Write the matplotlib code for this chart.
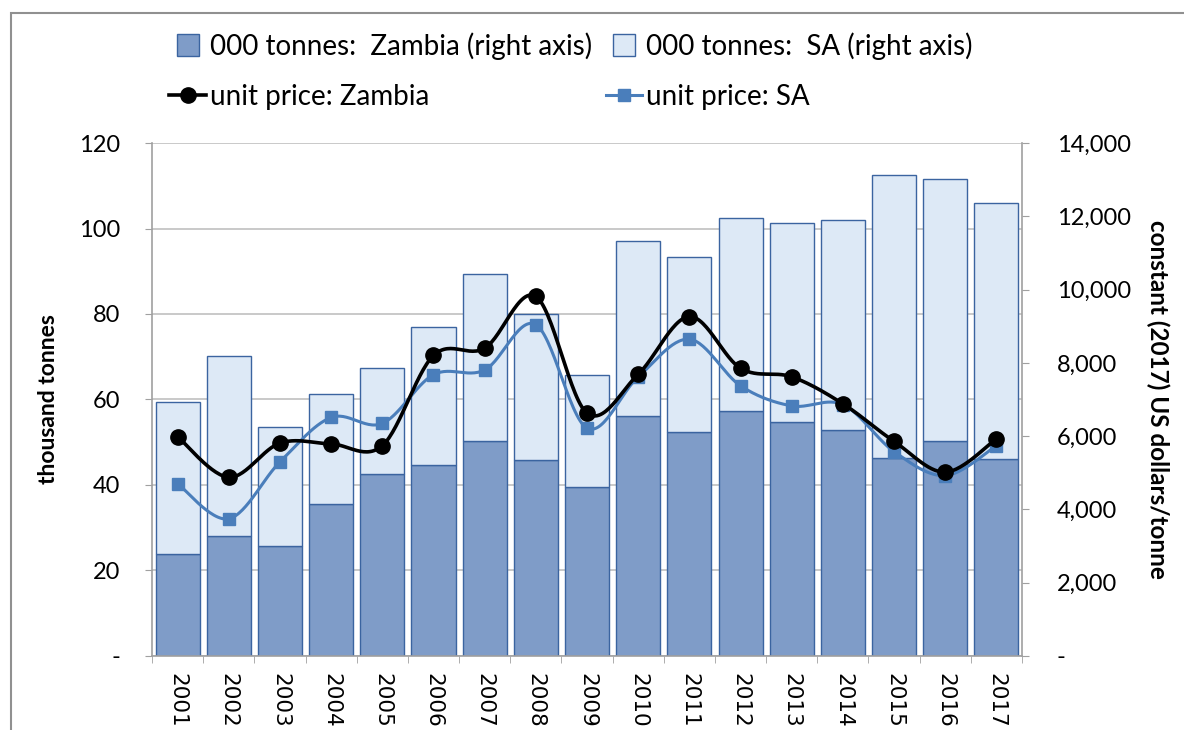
import numpy as np
import matplotlib
matplotlib.use("Agg")
import matplotlib.pyplot as plt
from matplotlib.patches import Rectangle
from matplotlib.ticker import FuncFormatter, FixedLocator, MultipleLocator
from matplotlib.lines import Line2D

plt.rcParams['font.family'] = ['Lato', 'DejaVu Sans']

# data
years = [str(y) for y in range(2001, 2018)]
zambia_kt = [23.9, 28.1, 25.7, 35.5, 42.5, 44.7, 50.2, 45.8, 39.5,
             56.1, 52.3, 57.3, 54.8, 52.9, 46.2, 50.4, 46.0]
total_kt = [59.3, 70.1, 53.5, 61.2, 67.4, 77.0, 89.4, 80.1, 65.7,
            97.0, 93.4, 102.4, 101.2, 102.1, 112.5, 111.5, 106.0]
sa_kt = [round(t - z, 1) for t, z in zip(total_kt, zambia_kt)]
price_zambia = [5985, 4877, 5810, 5787, 5740, 8202, 8400, 9812, 6627,
                7688, 9263, 7852, 7618, 6883, 5857, 5017, 5927]
price_sa = [4702, 3745, 5297, 6510, 6347, 7677, 7805, 9042, 6218,
            7618, 8645, 7373, 6825, 6860, 5577, 4923, 5740]

col_zambia = '#7F9CC8'
col_sa = '#DDE9F6'
col_edge = '#3B64A0'
col_sa_line = '#4A7EBB'
col_grid = '#C0C0C0'
col_axis = '#A0A0A0'


def smooth(xs, ys, n=30):
    # Catmull-Rom curve through the points, like Excel's smoothed line
    xs = np.asarray(xs, float)
    ys = np.asarray(ys, float)
    px = np.concatenate([[xs[0]], xs, [xs[-1]]])
    py = np.concatenate([[ys[0]], ys, [ys[-1]]])
    outx, outy = [], []
    for i in range(1, len(px) - 2):
        t = np.linspace(0, 1, n, endpoint=False)
        for arr, out in ((px, outx), (py, outy)):
            p0, p1, p2, p3 = arr[i - 1], arr[i], arr[i + 1], arr[i + 2]
            out.extend(0.5 * (2 * p1 + (-p0 + p2) * t
                              + (2 * p0 - 5 * p1 + 4 * p2 - p3) * t ** 2
                              + (-p0 + 3 * p1 - 3 * p2 + p3) * t ** 3))
    outx.append(xs[-1])
    outy.append(ys[-1])
    return np.array(outx), np.array(outy)


fig = plt.figure(figsize=(11.84, 7.30), dpi=100)
ax = fig.add_axes([0.1284, 0.1014, 0.7348, 0.7027])
x = np.arange(len(years))

ax.bar(x, zambia_kt, width=0.86, color=col_zambia, edgecolor=col_edge,
       linewidth=1.0, zorder=2)
ax.bar(x, sa_kt, bottom=zambia_kt, width=0.86, color=col_sa,
       edgecolor=col_edge, linewidth=1.0, zorder=2)

ax.set_xlim(-0.5, len(years) - 0.5)
ax.set_ylim(0, 120)
ax.yaxis.set_major_locator(MultipleLocator(20))
ax.yaxis.set_major_formatter(FuncFormatter(lambda v, p: '-' if v == 0 else f'{v:.0f}'))
ax.grid(axis='y', color=col_grid, linewidth=1.2, zorder=0)
ax.set_axisbelow(True)

ax.set_xticks(x)
ax.set_xticklabels(years, rotation=270, fontsize=15.5, family='DejaVu Sans')
ax.xaxis.set_minor_locator(FixedLocator(np.arange(-0.5, len(years), 1)))
ax.tick_params(axis='x', which='major', length=0, pad=12)
ax.tick_params(axis='x', which='minor', length=5, color=col_axis, direction='out')
ax.tick_params(axis='y', length=5, color=col_axis, labelsize=17, pad=18)
for s in ['top', 'right']:
    ax.spines[s].set_visible(False)
for s in ['left', 'bottom']:
    ax.spines[s].set_color(col_axis)
    ax.spines[s].set_linewidth(1.2)
ax.set_ylabel('thousand tonnes', fontsize=16.5, fontweight='bold', labelpad=14)

ax2 = ax.twinx()
ax2.set_ylim(0, 14000)
ax2.yaxis.set_major_locator(MultipleLocator(2000))
ax2.yaxis.set_major_formatter(FuncFormatter(lambda v, p: '-' if v == 0 else f'{v:,.0f}'))
ax2.tick_params(axis='y', length=5, color=col_axis, labelsize=17, pad=20)
for s in ['top', 'left', 'bottom']:
    ax2.spines[s].set_visible(False)
ax2.spines['right'].set_color(col_axis)
ax2.spines['right'].set_linewidth(1.2)
ax2.set_ylabel('constant (2017) US dollars/tonne', fontsize=17.5,
               fontweight='bold', rotation=270, labelpad=28)

sx, sy = smooth(x, price_sa)
ax2.plot(sx, sy, color=col_sa_line, linewidth=2.2, zorder=3)
ax2.plot(x, price_sa, 's', color=col_sa_line, markersize=9, zorder=4)
zx, zy = smooth(x, price_zambia)
ax2.plot(zx, zy, color='black', linewidth=2.6, zorder=5)
ax2.plot(x, price_zambia, 'o', color='black', markersize=11, zorder=6)

handles = [
    Line2D([], [], linestyle='none', marker='s', markersize=16,
           markerfacecolor=col_zambia, markeredgecolor=col_edge),
    Line2D([], [], color='black', linewidth=2.6, marker='o', markersize=11),
    Line2D([], [], linestyle='none', marker='s', markersize=16,
           markerfacecolor=col_sa, markeredgecolor=col_edge),
    Line2D([], [], color=col_sa_line, linewidth=2.2, marker='s', markersize=9),
]
labels = ['000 tonnes:  Zambia (right axis)', 'unit price: Zambia',
          '000 tonnes:  SA (right axis)', 'unit price: SA']
fig.legend(handles, labels, ncol=2, loc='upper left',
           bbox_to_anchor=(0.122, 0.99), frameon=False, fontsize=20,
           handlelength=1.3, handletextpad=0.15, columnspacing=0.5,
           labelspacing=0.85)

# outer chart frame
fig.add_artist(Rectangle((11 / 1184, -0.1), 1.2, 1 - 13.5 / 730 + 0.1,
                         transform=fig.transFigure, fill=False,
                         edgecolor='#909090', linewidth=1.5))

fig.savefig('out.png', dpi=100, facecolor='white')
